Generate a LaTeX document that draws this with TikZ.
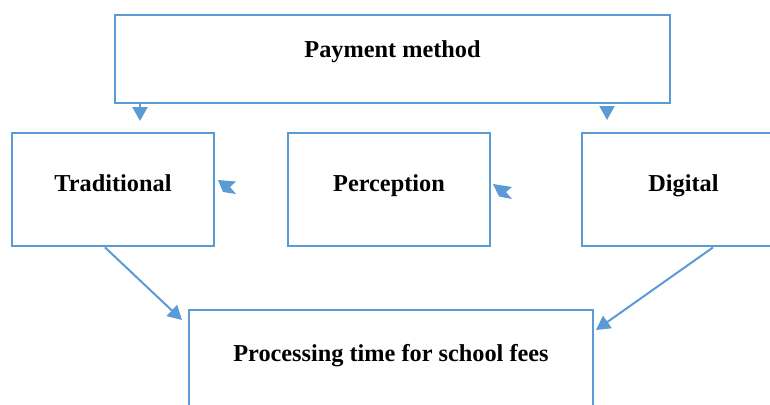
\documentclass[tikz,border=0pt]{standalone}
\usepackage{fontspec}
\setmainfont{Liberation Serif}
\usetikzlibrary{arrows.meta}
\definecolor{lineblue}{RGB}{91,155,213}
\tikzset{
  box/.style={draw=lineblue, line width=2.8pt, inner sep=0pt, fill=white},
  lbl/.style={font=\fontsize{24.3}{28}\selectfont\bfseries, inner sep=0pt, anchor=base},
  arr/.style={draw=lineblue, line width=2pt, -{Triangle[width=15pt,length=14pt]}},
  headfill/.style={fill=lineblue}
}
\begin{document}
\begin{tikzpicture}[x=1pt,y=-1pt]
\useasboundingbox (0,0) rectangle (770,404);
\clip (0,0) rectangle (770,404);
% boxes
\node[box, minimum width=555pt, minimum height=88pt] (pm) at (392.5,59) {};
\node[box, minimum width=202pt, minimum height=113pt] (trad) at (113,189.5) {};
\node[box, minimum width=202pt, minimum height=113pt] (perc) at (389,189.5) {};
\node[box, minimum width=202pt, minimum height=113pt] (dig) at (683,189.5) {};
\node[box, minimum width=404pt, minimum height=120pt] (proc) at (391,370) {};
% labels
\node[lbl] (tpm) at (392.5,58) {Payment method};
\node[lbl] (ttrad) at (113,191) {Traditional};
\node[lbl] (tperc) at (389,191) {Perception};
\node[lbl] (tdig) at (683.5,191) {Digital};
\node[lbl] (tproc) at (391,361) {Processing time for school fees};
% connector ends
\coordinate (a1) at (140,121);
\coordinate (a2) at (607,120);
\coordinate (d1) at (182,320);
\coordinate (d2) at (596,330);
\coordinate (h1) at (218,180);
\coordinate (h2) at (493,184);
% connectors
\draw[arr] (pm.south -| a1) -- (a1);
\draw[arr] ([yshift=-3pt]pm.south -| a2) -- (a2);
\draw[arr] (trad.south -| 105,0) -- (d1);
\draw[arr] (dig.south -| 713,0) -- (d2);
% stray double arrowheads
\fill[headfill] (h1) -- ++(18,1.5) -- ++(-6,5.5) -- ++(6,7) -- ++(-13,-2) -- cycle;
\fill[headfill] (h2) -- ++(19,3) -- ++(-6,5) -- ++(6,7) -- ++(-13,-2.5) -- cycle;
\end{tikzpicture}
\end{document}
